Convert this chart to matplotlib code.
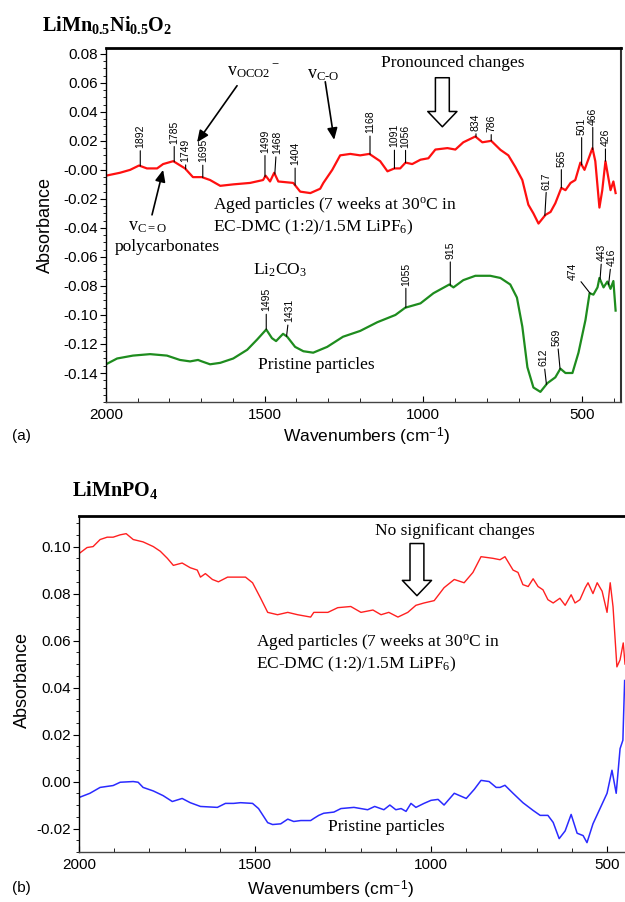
import numpy as np
import matplotlib.pyplot as plt
from matplotlib.ticker import MultipleLocator, FixedLocator, FuncFormatter

plt.rcParams['font.family'] = ['Liberation Sans', 'DejaVu Sans']
plt.rcParams['mathtext.fontset'] = 'custom'
plt.rcParams['mathtext.rm'] = 'Liberation Serif'
plt.rcParams['mathtext.it'] = 'Liberation Serif:italic'
plt.rcParams['mathtext.bf'] = 'Liberation Serif:bold'
plt.rcParams['mathtext.sf'] = 'Liberation Sans'
plt.rcParams['axes.unicode_minus'] = False

SERIF = 'Liberation Serif'

# ---- panel (a): LiMn0.5Ni0.5O2 ----
a_aged_wn = [2000, 1956, 1924, 1896, 1871, 1839, 1820, 1788, 1751, 1726, 1698, 1672,
             1640, 1599, 1546, 1505, 1497, 1483, 1470, 1457, 1410, 1388, 1356, 1325,
             1315, 1287, 1262, 1230, 1199, 1170, 1136, 1113, 1091, 1073, 1056, 1035,
             1009, 984, 962, 924, 899, 874, 836, 814, 786, 757, 732, 710, 688, 669,
             653, 637, 615, 599, 584, 565, 552, 536, 521, 505, 492, 467, 458, 445,
             436, 426, 410, 401, 394]
a_aged_abs = [-0.004, -0.002, 0.000, 0.003, 0.001, 0.001, 0.004, 0.006, 0.001, -0.005,
              -0.005, -0.007, -0.011, -0.010, -0.009, -0.007, -0.004, -0.008, -0.002,
              -0.008, -0.009, -0.015, -0.016, -0.013, -0.009, 0.000, 0.010, 0.011,
              0.010, 0.011, 0.006, -0.001, 0.001, 0.001, 0.005, 0.004, 0.007, 0.008,
              0.014, 0.015, 0.014, 0.019, 0.023, 0.019, 0.020, 0.0138, 0.010, 0.002,
              -0.007, -0.024, -0.030, -0.037, -0.031, -0.029, -0.023, -0.0124, -0.014,
              -0.009, -0.007, 0.005, 0.000, 0.015, 0.006, -0.026, -0.014, 0.006,
              -0.014, -0.008, -0.016]

a_pristine_wn = [2000, 1965, 1915, 1861, 1808, 1767, 1735, 1710, 1698, 1672, 1640, 1599,
                 1555, 1524, 1495, 1477, 1464, 1442, 1429, 1404, 1378, 1347, 1303, 1253,
                 1199, 1145, 1088, 1057, 1009, 968, 918, 905, 874, 836, 789, 757, 726,
                 705, 688, 672, 653, 631, 609, 584, 568, 552, 530, 511, 489, 476, 464,
                 451, 445, 432, 420, 410, 401, 394]
a_pristine_abs = [-0.134, -0.130, -0.128, -0.127, -0.128, -0.131, -0.132, -0.131, -0.132,
                  -0.134, -0.133, -0.130, -0.124, -0.117, -0.110, -0.116, -0.118, -0.113,
                  -0.115, -0.122, -0.125, -0.126, -0.122, -0.115, -0.111, -0.105, -0.100,
                  -0.095, -0.092, -0.085, -0.079, -0.081, -0.076, -0.073, -0.073, -0.0745,
                  -0.079, -0.088, -0.108, -0.136, -0.150, -0.153, -0.147, -0.143, -0.137,
                  -0.140, -0.140, -0.126, -0.1035, -0.085, -0.086, -0.081, -0.0745,
                  -0.081, -0.077, -0.082, -0.0766, -0.097]

a_aged_peaks = [1892, 1785, 1749, 1695, 1499, 1468, 1404, 1168, 1091, 1056, 834, 786,
                617, 565, 501, 466, 426]
a_pristine_peaks = [1495, 1431, 1055, 915, 612, 569, 474, 443, 416]

# label placement (pixels from the peak point)
a_aged_offsets = [(0, 18), (0, 18), (0, 7), (0, 15), (0, 24), (2, 20), (0, 20), (0, 21),
                  (0, 21), (0, 15), (0, 6), (0, 9), (2, 26), (0, 21), (0, 30), (0, 25),
                  (0, 15)]
a_pristine_offsets = [(0, 18), (3, 14), (0, 22), (0, 26), (-3, 18), (-3, 23), (-17, 13),
                      (2, 18), (3, 18)]

# ---- panel (b): LiMnPO4 ----
b_aged_wn = [2000, 1977, 1960, 1940, 1920, 1903, 1883, 1866, 1846, 1818, 1789, 1769,
             1749, 1732, 1707, 1684, 1664, 1655, 1641, 1621, 1604, 1578, 1550, 1527,
             1507, 1484, 1464, 1436, 1407, 1379, 1342, 1333, 1293, 1265, 1228, 1199,
             1165, 1142, 1120, 1094, 1066, 1043, 1020, 991, 963, 934, 906, 881, 858,
             824, 804, 790, 767, 753, 739, 724, 710, 696, 682, 668, 653, 634, 619, 602,
             591, 577, 562, 554, 540, 528, 514, 500, 491, 483, 472, 463, 454, 449]
b_aged_abs = [0.097, 0.0996, 0.100, 0.103, 0.104, 0.104, 0.105, 0.1055, 0.103, 0.102,
              0.100, 0.098, 0.095, 0.092, 0.093, 0.091, 0.090, 0.087, 0.0885, 0.086,
              0.085, 0.087, 0.087, 0.087, 0.0846, 0.078, 0.072, 0.071, 0.072, 0.071,
              0.070, 0.072, 0.072, 0.074, 0.0745, 0.072, 0.073, 0.071, 0.072, 0.070,
              0.072, 0.075, 0.076, 0.077, 0.0825, 0.086, 0.0846, 0.089, 0.0957, 0.095,
              0.0944, 0.0957, 0.090, 0.089, 0.0838, 0.083, 0.0863, 0.083, 0.0816,
              0.0774, 0.076, 0.078, 0.075, 0.0795, 0.076, 0.0774, 0.0825, 0.0846,
              0.080, 0.0846, 0.081, 0.072, 0.0846, 0.0744, 0.0488, 0.0518, 0.059, 0.050]

b_pristine_wn = [2000, 1969, 1940, 1903, 1883, 1846, 1832, 1818, 1789, 1761, 1735, 1707,
                 1684, 1655, 1607, 1584, 1561, 1541, 1507, 1490, 1464, 1450, 1427, 1407,
                 1390, 1370, 1342, 1333, 1319, 1305, 1276, 1256, 1219, 1180, 1160, 1134,
                 1117, 1100, 1085, 1071, 1057, 1043, 1020, 1000, 980, 963, 934, 900, 877,
                 858, 835, 815, 804, 790, 767, 739, 710, 690, 668, 653, 636, 619, 602,
                 585, 568, 557, 540, 520, 500, 486, 474, 463, 455, 453, 450]
b_pristine_abs = [-0.0068, -0.005, -0.0025, -0.0017, -0.0003, 0.000, -0.0003, -0.0025,
                  -0.004, -0.006, -0.0085, -0.0072, -0.009, -0.0106, -0.011, -0.0093,
                  -0.0093, -0.009, -0.0093, -0.0115, -0.0175, -0.0183, -0.018, -0.016,
                  -0.017, -0.0166, -0.0166, -0.0157, -0.0144, -0.0135, -0.013, -0.0115,
                  -0.011, -0.012, -0.0106, -0.012, -0.010, -0.012, -0.0115, -0.0127,
                  -0.0093, -0.011, -0.0093, -0.008, -0.0076, -0.010, -0.005, -0.0072,
                  -0.0033, 0.0005, 0.000, -0.0025, -0.0025, -0.0016, -0.005, -0.009,
                  -0.0123, -0.0144, -0.0144, -0.0174, -0.0243, -0.021, -0.014, -0.022,
                  -0.023, -0.026, -0.018, -0.0115, -0.005, 0.0048, -0.005, 0.014, 0.0176,
                  0.028, 0.043]

a_yticks = [-0.14, -0.12, -0.10, -0.08, -0.06, -0.04, -0.02, 0.0, 0.02, 0.04, 0.06, 0.08]
b_yticks = [-0.02, 0.0, 0.02, 0.04, 0.06, 0.08, 0.10]
xticks = [2000, 1500, 1000, 500]

aged_text = 'Aged particles (7 weeks at 30$^{\\rm o}$C in\nEC-DMC (1:2)/1.5M LiPF$_6$)'


def style_axes(ax, yticks, zero_label):
    ax.spines['top'].set_linewidth(2)
    ax.spines['left'].set_linewidth(1)
    ax.spines['bottom'].set_linewidth(1)
    ax.spines['bottom'].set_color('#444444')
    ax.xaxis.set_major_locator(FixedLocator(xticks))
    ax.xaxis.set_minor_locator(MultipleLocator(100))
    ax.yaxis.set_major_locator(FixedLocator(yticks))
    ax.yaxis.set_minor_locator(MultipleLocator(0.005))
    ax.yaxis.set_major_formatter(FuncFormatter(
        lambda v, p: zero_label if abs(v) < 1e-9 else f'{v:.2f}'))
    ax.tick_params(axis='y', which='major', direction='out', length=4, width=0.8,
                   labelsize=11, pad=2)
    ax.tick_params(axis='y', which='minor', direction='out', length=2, width=0.6)
    ax.tick_params(axis='x', which='major', direction='in', length=4, width=0.8,
                   labelsize=11, pad=4)
    ax.tick_params(axis='x', which='minor', direction='in', length=3, width=0.6)
    ax.set_xlabel('Wavenumbers (cm$^{\\mathsf{-1}}$)', fontsize=12.5)
    ax.set_ylabel('Absorbance', fontsize=13)
    ax.xaxis.label.set_va('center')
    ax.yaxis.label.set_va('center')


def peak_labels(ax, wn, ab, peaks, offsets):
    xs = np.array(wn)[::-1]
    ys = np.array(ab)[::-1]
    for p, (dx, dy) in zip(peaks, offsets):
        yp = np.interp(p, xs, ys)
        ax.annotate(str(p), xy=(p, yp), xytext=(dx * 0.72, dy * 0.72),
                    textcoords='offset points', rotation=90, ha='center', va='bottom',
                    fontsize=7.5,
                    arrowprops=dict(arrowstyle='-', lw=0.8, color='black',
                                    shrinkA=0, shrinkB=0))


def hollow_arrow(ax, x, y0, y1):
    ax.annotate('', xy=(x, y1), xytext=(x, y0),
                arrowprops=dict(arrowstyle='simple,head_length=0.55,head_width=1.05,tail_width=0.5',
                                fc='white', ec='black', lw=1.1, mutation_scale=20,
                                shrinkA=0, shrinkB=0))


def line_arrow(ax, xy_from, xy_to):
    ax.annotate('', xy=xy_to, xytext=xy_from,
                arrowprops=dict(arrowstyle='-|>,head_length=0.5,head_width=0.22',
                                color='black', lw=1.2, mutation_scale=14,
                                shrinkA=0, shrinkB=0))


fig = plt.figure(figsize=(6.25, 9.02), dpi=100)

# ---------------- (a) ----------------
ax_a = fig.add_axes([0.1696, 0.5543, 0.824, 0.3925])
ax_a.plot(a_aged_wn, a_aged_abs, color='#ff1010', lw=1.6)
ax_a.plot(a_pristine_wn, a_pristine_abs, color='#1e8c1e', lw=1.6)
ax_a.set_xlim(2000, 377)
ax_a.set_ylim(-0.16, 0.084)
style_axes(ax_a, a_yticks, '-0.00')
ax_a.spines['right'].set_linewidth(1.5)
ax_a.spines['right'].set_color('#333333')
ax_a.xaxis.set_label_coords(0.505, -0.099)
ax_a.yaxis.set_label_coords(-0.118, 0.5)

peak_labels(ax_a, a_aged_wn, a_aged_abs, a_aged_peaks, a_aged_offsets)
peak_labels(ax_a, a_pristine_wn, a_pristine_abs, a_pristine_peaks, a_pristine_offsets)

ax_a.text(908, 0.0738, 'Pronounced changes', family=SERIF, fontsize=12.5,
          ha='center', va='center')
hollow_arrow(ax_a, 940, 0.0635, 0.0297)

ax_a.text(1618, 0.0676, 'v$_{\\rm OCO2}$$^{\\rm -}$', family=SERIF, fontsize=13,
          ha='left', va='center')
line_arrow(ax_a, (1587, 0.058), (1713, 0.019))
ax_a.text(1366, 0.0656, 'v$_{\\rm C\\text{-}O}$', family=SERIF, fontsize=13,
          ha='left', va='center')
line_arrow(ax_a, (1309, 0.0607), (1281, 0.0207))
ax_a.text(1931, -0.0393, 'v$_{\\rm C=O}$', family=SERIF, fontsize=13,
          ha='left', va='center')
ax_a.text(1972, -0.0531, 'polycarbonates', family=SERIF, fontsize=12.5,
          ha='left', va='center')
line_arrow(ax_a, (1855, -0.031), (1820, 0.0))

ax_a.text(1662, -0.0321, aged_text, family=SERIF, fontsize=12.5,
          ha='left', va='center', linespacing=1.2)
ax_a.text(1536, -0.069, 'Li$_2$CO$_3$', family=SERIF, fontsize=12.5,
          ha='left', va='center')
ax_a.text(1521, -0.1346, 'Pristine particles', family=SERIF, fontsize=12.5,
          ha='left', va='center')

# ---------------- (b) ----------------
ax_b = fig.add_axes([0.1264, 0.0554, 0.8736, 0.3725])
ax_b.plot(b_aged_wn, b_aged_abs, color='#ff2020', lw=1.0)
ax_b.plot(b_pristine_wn, b_pristine_abs, color='#2a2aff', lw=1.1)
ax_b.set_xlim(2000, 449)
ax_b.set_ylim(-0.030, 0.113)
style_axes(ax_b, b_yticks, '0.00')
ax_b.spines['right'].set_visible(False)
ax_b.xaxis.set_label_coords(0.46, -0.113)
ax_b.yaxis.set_label_coords(-0.104, 0.512)

ax_b.text(932, 0.1068, 'No significant changes', family=SERIF, fontsize=12.5,
          ha='center', va='center')
hollow_arrow(ax_b, 1040, 0.1013, 0.0791)
ax_b.text(1497, 0.0549, aged_text, family=SERIF, fontsize=12.5,
          ha='left', va='center', linespacing=1.2)
ax_b.text(1293, -0.0192, 'Pristine particles', family=SERIF, fontsize=12.5,
          ha='left', va='center')

# ---------------- figure labels ----------------
fig.text(0.0672, 0.9723, '$\\mathbf{LiMn_{0.5}Ni_{0.5}O_2}$', fontsize=14.5,
         ha='left', va='center')
fig.text(0.115, 0.4568, '$\\mathbf{LiMnPO_4}$', fontsize=14.5, ha='left', va='center')
fig.text(0.019, 0.5166, '(a)', fontsize=11, ha='left', va='center')
fig.text(0.019, 0.0155, '(b)', fontsize=11, ha='left', va='center')

fig.savefig('out.png', dpi=100)
